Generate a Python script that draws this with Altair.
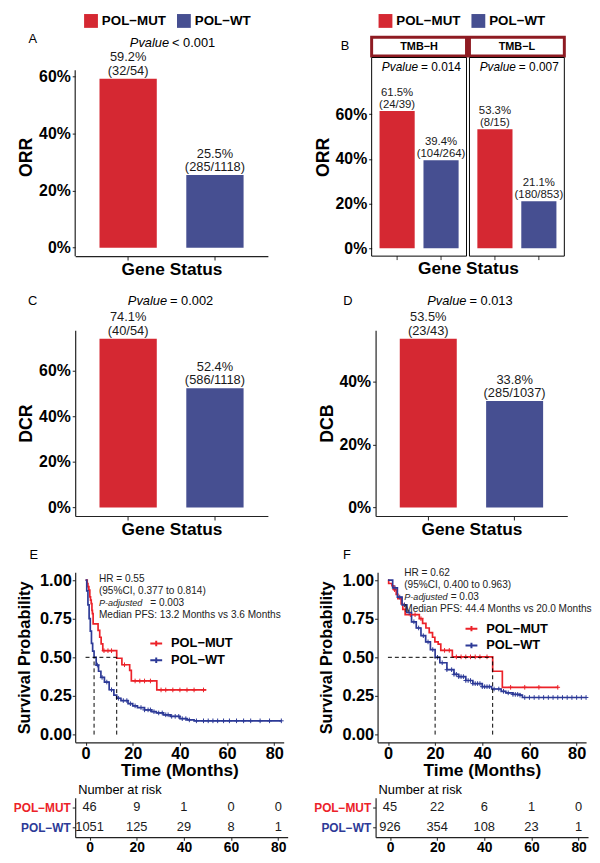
import altair as alt
import pandas as pd

FONT = "Liberation Sans"
MUT = "POL−MUT"
WT = "POL−WT"
GROUPS = [MUT, WT]
RED_BAR = "#D52832"
BLUE_BAR = "#464F91"
RED_KM = "#EC2229"
BLUE_KM = "#2D3A97"
STRIP = "#8E1B22"

# ---------------- data ----------------
a_rate = [0.592, 0.255]
a_pct = ["59.2%", "25.5%"]
a_cnt = ["(32/54)", "(285/1118)"]
a_p = "< 0.001"

b_levels = ["TMB−H", "TMB−L"]
b_tmb = ["TMB−H", "TMB−H", "TMB−L", "TMB−L"]
b_group = [MUT, WT, MUT, WT]
b_rate = [0.615, 0.394, 0.533, 0.211]
b_pct = ["61.5%", "39.4%", "53.3%", "21.1%"]
b_cnt = ["(24/39)", "(104/264)", "(8/15)", "(180/853)"]
b_p = ["= 0.014", "= 0.007"]

c_rate = [0.741, 0.524]
c_pct = ["74.1%", "52.4%"]
c_cnt = ["(40/54)", "(586/1118)"]
c_p = "= 0.002"

d_rate = [0.535, 0.338]
d_pct = ["53.5%", "33.8%"]
d_cnt = ["(23/43)", "(285/1037)"]
d_p = "= 0.013"

# KM E
em_t = [0, 0.7, 1.0, 1.4, 1.8, 2.1, 2.4, 2.7, 2.9, 3.2, 5.3, 6.0, 6.6, 7.3, 13.2, 15.4, 18.7, 19.4, 30.2, 51.2]
em_s = [1.0, 0.978, 0.957, 0.935, 0.891, 0.870, 0.848, 0.804, 0.783, 0.717, 0.674, 0.630, 0.587, 0.543, 0.494, 0.452, 0.416, 0.347, 0.289, 0.289]
ew_t = [0, 0.5, 1.0, 1.5, 2.0, 2.5, 3.0, 3.6, 4.5, 5.5, 6.5, 8.0, 10.0, 12.0, 13.2, 15.0, 18.0, 20.0, 22.0, 25.0, 28.0, 30.0, 33.0, 36.0, 40.0, 43.0, 46.0, 83.0]
ew_s = [1.0, 0.93, 0.84, 0.75, 0.67, 0.59, 0.54, 0.50, 0.45, 0.41, 0.37, 0.34, 0.29, 0.255, 0.235, 0.22, 0.20, 0.186, 0.175, 0.16, 0.148, 0.14, 0.128, 0.118, 0.103, 0.095, 0.089, 0.089]
em_c = [7.8, 9.5, 11.0, 16.5, 21.0, 23.0, 25.0, 27.5, 32.0, 34.0, 37.0, 40.0, 43.0, 46.0, 50.0]
ew_c = [5.0, 7.0, 9.0, 11.0, 14.0, 16.0, 17.5, 19.0, 21.0, 23.5, 25.0, 26.5, 27.5, 29.0, 31.0, 32.5, 34.0, 35.0, 36.5, 38.0, 39.5, 41.0, 42.5, 44.0, 47.0, 50.0, 52.0, 54.0, 56.0, 58.5, 61.0, 64.0, 67.0, 70.0, 74.0, 78.0, 83.0]
e_med = [3.6, 13.2]
e_ann = ["HR = 0.55", "(95%CI, 0.377 to 0.814)", "= 0.003", "Median PFS: 13.2 Months vs 3.6 Months"]

# KM F
fm_t = [0, 0.3, 1.7, 2.5, 3.5, 4.2, 5.6, 6.3, 7.3, 13.3, 14.7, 16.1, 17.5, 18.9, 19.9, 21.3, 22.4, 27.3, 44.4, 48.5, 72.2]
fm_s = [1.0, 0.978, 0.963, 0.938, 0.907, 0.88, 0.845, 0.81, 0.776, 0.75, 0.72, 0.69, 0.66, 0.63, 0.60, 0.585, 0.545, 0.503, 0.41, 0.306, 0.306]
fw_t = [0, 2, 4, 6, 8, 10, 12, 14, 16, 18, 20, 22, 25, 28, 30, 33, 36, 40, 44, 48, 50, 53, 56, 57, 84]
fw_s = [1.0, 0.95, 0.89, 0.84, 0.79, 0.73, 0.69, 0.64, 0.60, 0.55, 0.50, 0.465, 0.42, 0.39, 0.375, 0.35, 0.33, 0.31, 0.295, 0.28, 0.27, 0.26, 0.255, 0.24, 0.24]
fm_c = [2.8, 9.5, 11.5, 14.0, 24.0, 26.0, 29.0, 31.0, 33.0, 35.0, 37.0, 39.0, 42.0, 52.0, 58.0, 64.0, 72.0]
fw_c = [3, 5, 7, 9, 11, 13, 15, 17, 19, 21, 23, 25, 27, 28, 29, 30, 31, 32, 33, 34, 35, 36, 37, 38, 39, 40, 41, 42, 43, 45, 47, 49, 51, 53, 54, 55, 56, 58, 60, 62, 64, 66, 68, 70, 72, 74, 76, 78, 80, 82, 84]
f_med = [20.0, 44.4]
f_ann = ["HR = 0.62", "(95%CI, 0.400 to 0.963)", "= 0.03", "Median PFS: 44.4 Months vs 20.0 Months"]

risk_t = [0, 20, 40, 60, 80]
e_risk_mut = [46, 9, 1, 0, 0]
e_risk_wt = [1051, 125, 29, 8, 1]
f_risk_mut = [45, 22, 6, 1, 0]
f_risk_wt = [926, 354, 108, 23, 1]

# ---------------- helpers ----------------
def markers(left, top, bottom=None):
    """Invisible hairlines that fix each panel's outer extent for the layout."""
    df = pd.DataFrame({"m": [0]})
    out = [alt.Chart(df).mark_rule(color="white", strokeWidth=0.5)
           .encode(x=alt.value(left), y=alt.value(top), y2=alt.value(top + 1))]
    if bottom is not None:
        out.append(alt.Chart(df).mark_rule(color="white", strokeWidth=0.5)
                   .encode(x=alt.value(left), y=alt.value(bottom - 1), y2=alt.value(bottom)))
    return out


def note(txt, x, y, size=13, weight="normal", style="normal", align="center", color="black"):
    df = pd.DataFrame({"t": [txt]})
    return alt.Chart(df).mark_text(font=FONT, fontSize=size, fontWeight=weight, fontStyle=style,
                                   align=align, baseline="middle", color=color).encode(
        x=alt.value(x), y=alt.value(y), text="t:N")


def yaxis(title, ticks, fmt=".0%", domain=True, tfs=18, tpad=3, lfs=16, lpad=2):
    return alt.Axis(values=ticks, format=fmt, title=title, titleFontSize=tfs, titlePadding=tpad,
                    domain=domain, tickSize=3, labelPadding=lpad, labelFontSize=lfs,
                    labelFontWeight="bold", titleFontWeight="bold", grid=False)


def top_legend(lx, ly):
    return alt.Legend(orient="none", legendX=lx, legendY=ly, direction="horizontal", title=None,
                      symbolType="square", symbolSize=196, symbolStrokeWidth=0, symbolOpacity=1,
                      labelFont=FONT, labelFontSize=13.5, labelFontWeight="bold", labelColor="black",
                      labelOffset=4, columnPadding=11, padding=0)


def bar_panel(rates, pcts, cnts, ytitle, ydom, yticks, letter, lxy, ptext, pxy, W, H, left, top,
              bottom, legend, axis_top=None):
    df = pd.DataFrame({"group": GROUPS, "rate": rates, "pct": pcts, "cnt": cnts})
    x = alt.X("group:N", sort=GROUPS,
              scale=alt.Scale(domain=GROUPS, paddingInner=0.34, paddingOuter=0.28),
              axis=alt.Axis(labels=False, ticks=True, tickSize=4, domain=True, title="Gene Status",
                            titlePadding=0, titleFontSize=17.5, titleFontWeight="bold"))
    ys = alt.Scale(domain=ydom, nice=False, zero=False)
    ya = yaxis(ytitle, yticks, domain=axis_top is None)
    y = alt.Y("rate:Q", scale=ys, axis=ya)
    color = alt.Color("group:N", scale=alt.Scale(domain=GROUPS, range=[RED_BAR, BLUE_BAR]), legend=legend)
    base = alt.Chart(df)
    bars = base.mark_bar().encode(x=x, y=y, y2=alt.datum(0), color=color)
    t1 = base.mark_text(font=FONT, fontSize=13, baseline="bottom", dy=-14.5, color="#1a1a1a").encode(
        x=x, y=y, text="pct:N")
    t2 = base.mark_text(font=FONT, fontSize=13, baseline="bottom", dy=-1, color="#1a1a1a").encode(
        x=x, y=y, text="cnt:N")
    layers = [bars, t1, t2]
    if axis_top is not None:
        adf = pd.DataFrame({"lo": [ydom[0]], "hi": [axis_top]})
        layers.append(alt.Chart(adf).mark_rule(color="#222222", strokeWidth=1.2).encode(
            x=alt.value(0), y=alt.Y("lo:Q", scale=ys, axis=ya), y2="hi:Q"))
    layers += [note(letter, lxy[0], lxy[1]),
               note("Pvalue", pxy[0] - 1, pxy[1], style="italic", align="right"),
               note(ptext, pxy[0] + 2, pxy[1], align="left")] + markers(left, top, bottom)
    return alt.layer(*layers).properties(width=W, height=H)


def step_at(ts, ss, t):
    v = ss[0]
    for ti, si in zip(ts, ss):
        if ti <= t:
            v = si
        else:
            break
    return v


KM_XS = alt.Scale(domain=[-4.4, 84], nice=False, zero=False)
RISK_XS = alt.Scale(domain=[-6.1, 84], nice=False, zero=False)
KM_W = 211
RISK_W = 215
KM_H = 172
ANN = 10.2


def km_panel(mt, ms, wt, ws, mc, wc, meds, ann, ax, ays, peq_x, leg_xy, letter, lxy, left, top, bottom):
    curve = pd.DataFrame({"time": mt + wt, "surv": ms + ws,
                          "group": [MUT] * len(mt) + [WT] * len(wt)})
    cens = pd.DataFrame({"time": mc + wc,
                         "surv": [step_at(mt, ms, t) for t in mc] + [step_at(wt, ws, t) for t in wc],
                         "group": [MUT] * len(mc) + [WT] * len(wc)})
    xa = alt.Axis(values=[0, 20, 40, 60, 80], title="Time (Months)", titleFontSize=17.5,
                  titlePadding=0, labelFontSize=16.5, labelFontWeight="bold", tickSize=3,
                  labelPadding=0, grid=False)
    ys = alt.Scale(domain=[-0.05, 1.05], nice=False, zero=False)
    ya = yaxis("Survival Probability", [0, 0.25, 0.5, 0.75, 1.0], fmt=".2f", tfs=16.6, tpad=7,
               lfs=16.5, lpad=1)
    leg = alt.Legend(orient="none", legendX=leg_xy[0], legendY=leg_xy[1], title=None,
                     symbolType="M-1,0H1M0,-0.45V0.45", symbolSize=144, symbolStrokeWidth=2,
                     labelFont=FONT, labelFontSize=13, labelFontWeight="bold", labelColor="black",
                     labelOffset=8, rowPadding=3, padding=0)
    col = alt.Color("group:N", scale=alt.Scale(domain=GROUPS, range=[RED_KM, BLUE_KM]), legend=leg)
    X = alt.X("time:Q", scale=KM_XS, axis=xa)
    Y = alt.Y("surv:Q", scale=ys, axis=ya)
    lines = alt.Chart(curve).mark_line(interpolate="step-after", strokeWidth=1.7).encode(x=X, y=Y, color=col)
    pts = alt.Chart(cens).mark_point(shape="M-1,0H1M0,-1V1", size=22, strokeWidth=1, filled=False,
                                     opacity=1).encode(x=X, y=Y, color=col)
    hdf = pd.DataFrame({"x0": [0.0], "x1": [max(meds)], "y": [0.5]})
    hrule = alt.Chart(hdf).mark_rule(strokeDash=[4, 3], color="black", strokeWidth=1).encode(
        x=alt.X("x0:Q", scale=KM_XS, axis=xa), x2="x1:Q", y=alt.Y("y:Q", scale=ys, axis=ya))
    vdf = pd.DataFrame({"t": meds, "y0": [0.0] * len(meds), "y1": [0.5] * len(meds)})
    vrule = alt.Chart(vdf).mark_rule(strokeDash=[4, 3], color="black", strokeWidth=1).encode(
        x=alt.X("t:Q", scale=KM_XS, axis=xa), y=alt.Y("y0:Q", scale=ys, axis=ya), y2="y1:Q")
    texts = [
        note(ann[0], ax, ays[0], size=ANN, align="left", color="#222222"),
        note(ann[1], ax, ays[1], size=ANN, align="left", color="#222222"),
        note("P-adjusted", ax, ays[2], size=9.2, style="italic", align="left", color="#222222"),
        note(ann[2], peq_x, ays[2], size=ANN, align="left", color="#222222"),
        note(ann[3], ax, ays[3], size=ANN, align="left", color="#222222"),
        note(letter, lxy[0], lxy[1]),
    ]
    layers = [lines, pts, hrule, vrule] + texts + markers(left, top, bottom)
    return alt.layer(*layers).properties(width=KM_W, height=KM_H)


def risk_panel(cm, cw, left, top):
    df = pd.DataFrame({"time": risk_t + risk_t, "group": [MUT] * 5 + [WT] * 5,
                       "n": [str(v) for v in cm + cw]})
    x = alt.X("time:Q", scale=RISK_XS,
              axis=alt.Axis(values=risk_t, title=None, labelFontSize=14, labelFontWeight="bold",
                            tickSize=3, labelPadding=1, grid=False))
    y = alt.Y("group:N", sort=GROUPS, scale=alt.Scale(domain=GROUPS, paddingInner=0, paddingOuter=0.17),
              axis=alt.Axis(title=None, labelFontSize=12, labelFontWeight="bold", tickSize=3,
                            labelPadding=2, grid=False,
                            labelColor={"condition": {"test": "datum.value === '" + MUT + "'",
                                                      "value": RED_KM}, "value": BLUE_KM}))
    txt = alt.Chart(df).mark_text(font=FONT, fontSize=13, color="#1a1a1a").encode(x=x, y=y, text="n:N")
    layers = [txt, note("Number at risk", 3, -8, size=13, align="left")] + markers(left, top)
    return alt.layer(*layers).properties(width=RISK_W, height=40)


# ---------------- panels ----------------
A = bar_panel(a_rate, a_pct, a_cnt, "ORR", [-0.0296, 0.6665], [0, 0.2, 0.4, 0.6], "A", (-43, -19),
              a_p, (96, -15), 195, 201, -67, -44, 227, top_legend(9, -44), axis_top=0.6216)

# B panel (two facets drawn as bands)
HB = 201
b_df = pd.DataFrame({"tmb": b_tmb, "group": b_group, "rate": b_rate, "pct": b_pct, "cnt": b_cnt})
s_df = pd.DataFrame({"tmb": b_levels, "p": b_p})
xB = alt.X("tmb:N", sort=b_levels, scale=alt.Scale(domain=b_levels, paddingInner=0.03, paddingOuter=0),
           axis=alt.Axis(labels=False, ticks=False, domain=False, title="Gene Status", titlePadding=4,
                         titleFontSize=17.5, titleFontWeight="bold"))
xo = alt.XOffset("group:N", sort=GROUPS, scale=alt.Scale(domain=GROUPS, paddingInner=0.2, paddingOuter=0.18))
yB = alt.Y("rate:Q", scale=alt.Scale(domain=[-0.035, 0.854], nice=False, zero=False),
           axis=yaxis("ORR", [0, 0.2, 0.4, 0.6], domain=False))
colB = alt.Color("group:N", scale=alt.Scale(domain=GROUPS, range=[RED_BAR, BLUE_BAR]), legend=top_legend(7, -44))
bB = alt.Chart(b_df)
B_layers = [
    bB.mark_bar().encode(x=xB, xOffset=xo, y=yB, y2=alt.datum(0), color=colB),
    bB.mark_text(font=FONT, fontSize=11.5, baseline="bottom", dy=-13.5, color="#1a1a1a").encode(
        x=xB, xOffset=xo, y=yB, text="pct:N"),
    bB.mark_text(font=FONT, fontSize=11.5, baseline="bottom", dy=-1, color="#1a1a1a").encode(
        x=xB, xOffset=xo, y=yB, text="cnt:N"),
    bB.mark_rule(color="#333333", strokeWidth=1).encode(x=xB, xOffset=xo, y=alt.value(HB), y2=alt.value(HB + 4)),
    alt.Chart(s_df).mark_rect(fill="white", stroke=STRIP, strokeWidth=3).encode(
        x=xB, y=alt.value(-20.5), y2=alt.value(-1.5)),
    alt.Chart(s_df).mark_text(font=FONT, fontSize=11, fontWeight="bold", color="black").encode(
        x=xB, y=alt.value(-11), text="tmb:N"),
    alt.Chart(s_df).mark_text(font=FONT, fontSize=12, fontStyle="italic", align="right", dx=-1,
                              color="black").encode(x=xB, y=alt.value(10), text=alt.value("Pvalue")),
    alt.Chart(s_df).mark_text(font=FONT, fontSize=12, align="left", dx=2, color="black").encode(
        x=xB, y=alt.value(10), text="p:N"),
    alt.Chart(s_df).mark_rect(fillOpacity=0, stroke="black", strokeWidth=1).encode(
        x=xB, y=alt.value(0), y2=alt.value(HB)),
    note("B", -27, -12),
] + markers(-66, -44, 227)
B = alt.layer(*B_layers).properties(width=195, height=HB)

C = bar_panel(c_rate, c_pct, c_cnt, "DCR", [-0.037, 0.778], [0, 0.2, 0.4, 0.6], "C", (-43, -29.5),
              c_p, (94, -29.5), 195, 188, -67, -47, 214, None)
D = bar_panel(d_rate, d_pct, d_cnt, "DCB", [-0.02675, 0.56175], [0, 0.2, 0.4], "D", (-28, -29.5),
              d_p, (93, -29.5), 194, 188, -66, -47, 214, None)

E = km_panel(em_t, em_s, ew_t, ew_s, em_c, ew_c, e_med, e_ann, 24, [7, 19, 31, 43], 76,
             (75, 65), "E", (-42, -17), -67, -29, 210)
F = km_panel(fm_t, fm_s, fw_t, fw_s, fm_c, fw_c, f_med, f_ann, 27, [1, 13, 25, 37], 74,
             (88, 50), "F", (-31, -17), -66, -29, 210)

RE = risk_panel(e_risk_mut, e_risk_wt, -63, -16)
RF = risk_panel(f_risk_mut, f_risk_wt, -63, -16)


def row(a, b, sp):
    return alt.hconcat(a, b, spacing=sp).resolve_scale(color="independent").resolve_legend(color="independent")


chart = alt.vconcat(row(A, B, 38), row(C, D, 42), row(E, F, 26), row(RE, RF, 25), spacing=0)
chart = chart.resolve_scale(color="independent").resolve_legend(color="independent")
chart = chart.properties(padding=0).configure(font=FONT).configure_view(stroke=None).configure_axis(
    grid=False, domainColor="#222222", domainWidth=1.2, tickColor="#333333", tickWidth=1.1,
    labelColor="black", titleColor="black", labelFont=FONT, titleFont=FONT)

chart.save("out.html", embed_options={"renderer": "svg", "actions": False})
